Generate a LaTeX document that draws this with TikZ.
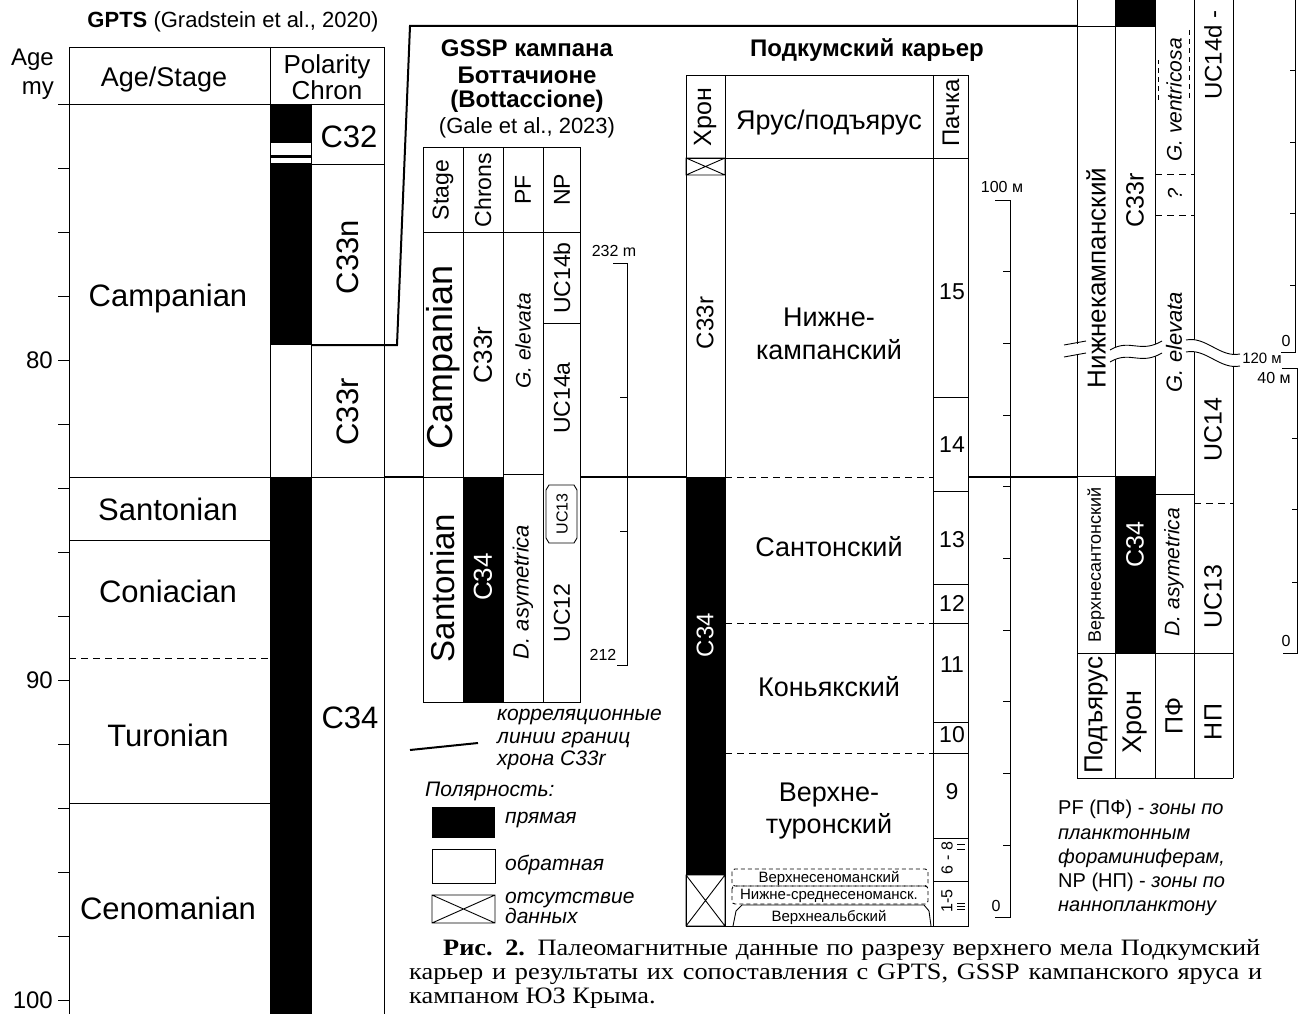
\documentclass[tikz,border=0pt]{standalone}
\usepackage{fontspec}
\setmainfont{Liberation Sans}
\newfontfamily\capfont[FakeStretch=1.12]{Liberation Serif}
\usetikzlibrary{positioning}
\newcommand*{\fsz}[1]{\fontsize{#1}{\the\dimexpr #1pt*6/5\relax}\selectfont}
\newcommand*{\nodata}[4]{% crossed box = no data
  \draw[cell] (#1,#2) rectangle (#3,#4) (#1,#2) -- (#3,#4) (#1,#4) -- (#3,#2);}
\tikzset{%
  cell/.style={line width=0.9pt},% table lines
  corr/.style={line width=2pt},% correlation lines of chron C33r
  divide/.style={cell, dash pattern=on 7pt off 5pt},% stage boundary inside a section
  finebox/.style={cell, dash pattern=on 4pt off 3pt, rounded corners=3pt},% small boxes at the base
  lab/.style={inner sep=0pt, font=\fsz{#1}},% plain label
  lab/.default=24,
  vlab/.style={lab=#1, rotate=90},% label along a column
  vlab/.default=24,
  ilab/.style={inner sep=0pt, font=\fsz{#1}\itshape},% taxon, legend text
  ilab/.default=21,
  vilab/.style={ilab=#1, rotate=90},
  vilab/.default=21,
  title/.style={inner sep=0pt, font=\fsz{24}\bfseries},
  caption/.style={inner sep=0pt, anchor=west, font=\capfont\fontsize{23.5}{24}\selectfont}
}
\begin{document}
\begin{tikzpicture}[x=1pt, y=-1pt]
\useasboundingbox (0,0) rectangle (1301,1014);

%%% GPTS
\node[lab=22] (gpts) at (233,22) {\textbf{GPTS} (Gradstein et al., 2020)};
\node[lab=24, align=right, anchor=east] (agemy) at (54,74) {Age\\my};
\node[lab=27] (agestage) at (164,80) {Age/Stage};
\node[inner sep=0pt, align=center, font=\fontsize{26}{26}\selectfont] (polchron) at (327,77) {Polarity\\Chron};
\draw[cell] (69,47) -- (384,47) (58,104) -- (384,104);
\draw[cell] (69,47) -- (69,1014) (270,47) -- (270,1014) (311,104) -- (311,1014) (384,47) -- (384,1014);
\foreach \y in {477,540,803} \draw[cell] (69,\y) -- (270,\y);
\draw[divide] (69,658) -- (270,658);
\foreach \y in {104,168,...,1000} \draw[cell] (58,\y) -- (69,\y);
\foreach \a/\y in {80/360,90/680,100/1000} \node[lab=24, anchor=east] (age\a) at (53,\y) {\a};
\foreach \s/\y in {Campanian/298,Santonian/509,Coniacian/591,Turonian/735,Cenomanian/908}
  \node[lab=31] (\s) at (168,\y) {\s};
% polarity
\fill (270,104) rectangle (311,143);
\fill (270,155) rectangle (311,158);
\fill (270,163) rectangle (311,345);
\fill (270,477) rectangle (311,1014);
\draw[cell] (311,164) -- (384,164) (311,345) -- (384,345) (311,477) -- (384,477);
\node[lab=31] (c32) at (349,137) {C32};
\node[vlab=31] (c33n) at (348,257) {C33n};
\node[vlab=31] (c33r) at (348,412) {C33r};
\node[lab=31] (c34) at (350,718) {C34};

% correlation lines
\coordinate (kink) at (397,345);
\coordinate (top) at (410,26);
\draw[corr] (311,345) -- (kink) -- (top) -- (1077,26);
\draw[corr] (384,477) -- (423,477) (580,477) -- (686,477) (968,477) -- (1077,477);

%%% GSSP Bottaccione
\foreach \t/\y in {GSSP кампана/48,Боттачионе/75,(Bottaccione)/101}
  \node[title] (gssp\y) at (527,\y) {\t};
\node[lab=22] (gale) at (527,128) {(Gale et al., 2023)};
\draw[cell] (423,147) rectangle (580,702);
\foreach \x in {463,503,543} \draw[cell] (\x,147) -- (\x,702);
\draw[cell] (423,232) -- (580,232);
\fill (463,477) rectangle (503,702);
\draw[cell] (423,477) -- (503,477) (503,474) -- (543,474) (543,323) -- (580,323);
\draw[cell] (549,485) -- (574,485) -- (577,490) -- (577,538) -- (574,543) -- (549,543)
  -- (546,538) -- (546,490) -- cycle;
\node[vlab=23] (gstage) at (443,190) {Stage};
\node[vlab=23] (gchrons) at (483,190) {Chrons};
\node[vlab=23] (gpf) at (523,190) {PF};
\node[vlab=23] (gnp) at (562,190) {NP};
\node[vlab=36] (gcamp) at (443,357) {Campanian};
\node[vlab=33] (gsant) at (443,588) {Santonian};
\node[vlab=26] (gc33r) at (483,355) {C33r};
\node[vlab=26, white] (gc34) at (483,577) {C34};
\node[vilab=21] (gelev) at (523,341) {G. elevata};
\node[vilab=22] (gasym) at (523,592) {D. asymetrica};
\node[vlab=23] (guc14b) at (562,278) {UC14b};
\node[vlab=23] (guc14a) at (562,398) {UC14a};
\node[vlab=16] (guc13) at (562,514) {UC13};
\node[vlab=23] (guc12) at (562,613) {UC12};
% thickness scale
\draw[cell] (613,263) -- (627,263) -- (627,665) -- (617,665);
\foreach \y in {397,531} \draw[cell] (620,\y) -- (627,\y);
\node[lab=16] (g232) at (614,251) {232 m};
\node[lab=16] (g212) at (603,655) {212};

%%% Podkumsky quarry
\node[title] (podk) at (867,50) {Подкумский карьер};
\draw[cell] (686,75) rectangle (968,926);
\foreach \x in {725,933} \draw[cell] (\x,75) -- (\x,926);
\draw[cell] (686,158) -- (968,158);
\nodata{686}{158}{725}{175}
\draw[cell] (686,477) -- (725,477);
\fill (686,477) rectangle (725,875);
\nodata{686}{875}{725}{926}
\foreach \y in {477,623,753} \draw[divide] (725,\y) -- (933,\y);
\foreach \y in {397,491,584,623,722,753,838,881} \draw[cell] (933,\y) -- (968,\y);
\foreach \y in {844,849,903,906,909} \draw[line width=0.6pt] (957,\y) -- (965,\y);
\draw[finebox] (732,869) rectangle (928,886);
\draw[finebox] (732,886) rectangle (928,904);
\draw[cell] (733,926) -- (736,911) -- (742,905) -- (924,905) -- (929,911) -- (931,926);
\node[vlab=25] (phron) at (705,117) {Хрон};
\node[lab=27] (pyarus) at (829,123) {Ярус/подъярус};
\node[vlab=24] (ppachka) at (951,113) {Пачка};
\node[vlab=24] (pc33r) at (705,323) {C33r};
\node[vlab=24, white] (pc34) at (705,635) {C34};
\node[lab=27, align=center] (pcamp) at (829,334) {Нижне-\\кампанский};
\node[lab=27] (psant) at (829,547) {Сантонский};
\node[lab=27] (pcon) at (829,687) {Коньякский};
\node[lab=27, align=center] (ptur) at (829,811) {Верхне-\\туронский};
\node[lab=15] (pcen3) at (829,878) {Верхнесеноманский};
\node[lab=15] (pcen12) at (829,896) {Нижне-среднесеноманск.};
\node[lab=15] (palb) at (829,917) {Верхнеальбский};
\foreach \n/\y in {15/292,14/445,13/540,12/603,11/665,10/735,9/792}
  \node[lab=23] (pack\n) at (952,\y) {\n};
\node[vlab=16] (pack68) at (947,858) {6 - 8};
\node[vlab=16] (pack15) at (947,901) {1-5};
% thickness scale
\draw[cell] (995,200) -- (1010,200) -- (1010,917) -- (995,917);
\foreach \k in {1,...,9} \draw[cell] (1003,{200+71.7*\k}) -- (1010,{200+71.7*\k});
\node[lab=16] (p100) at (1002,187) {100 м};
\node[lab=16] (p0) at (996,906) {0};

%%% SW Crimea
\foreach \x in {1077,1115,1155,1194,1233} \draw[cell] (\x,0) -- (\x,778);
\fill (1115,0) rectangle (1155,26);
\draw[cell] (1077,26) -- (1155,26) (1077,476) -- (1155,476) (1155,494) -- (1194,494);
\draw[cell] (1077,653) -- (1233,653) (1077,778) -- (1233,778);
\fill (1115,476) rectangle (1155,653);
\draw[divide] (1194,503) -- (1233,503) (1155,174) -- (1194,174) (1155,215) -- (1194,215);
\draw[cell, dash pattern=on 5pt off 4pt] (1158,100) -- (1158,60) (1189,30) -- (1189,100);
% break of the section
\fill[white] (1110,350) .. controls (1130,338) and (1140,354) .. (1162,341) -- (1162,353)
  .. controls (1140,366) and (1130,350) .. (1110,362) -- cycle;
\draw[cell] (1110,350) .. controls (1130,338) and (1140,354) .. (1162,341)
  (1110,362) .. controls (1130,350) and (1140,366) .. (1162,353);
\fill[white] (1186,340) .. controls (1206,336) and (1220,358) .. (1240,354) -- (1240,366)
  .. controls (1220,370) and (1206,348) .. (1186,352) -- cycle;
\draw[cell] (1186,340) .. controls (1206,336) and (1220,358) .. (1240,354)
  (1186,352) .. controls (1206,348) and (1220,370) .. (1240,366);
\fill[white] (1074,344) rectangle (1080,354);
\draw[cell] (1064,345) -- (1086,341) (1064,357) -- (1086,353);
\node[vlab=26] (ccamp) at (1096,278) {Нижнекампанский};
\node[vlab=18] (csant) at (1096,565) {Верхнесантонский};
\node[vlab=25] (cc33r) at (1135,200) {C33r};
\node[vlab=25, white] (cc34) at (1135,545) {C34};
\node[vilab=21] (cvent) at (1174,100) {G. ventricosa};
\node[vilab=20] (cq) at (1175,194) {?};
\node[vilab=22] (celev) at (1174,342) {G. elevata};
\node[vilab=21] (casym) at (1174,572) {D. asymetrica};
\node[vlab=24] (cuc14d) at (1213,55) {UC14d -};
\node[vlab=25] (cuc14) at (1213,430) {UC14};
\node[vlab=25] (cuc13) at (1213,597) {UC13};
\node[vlab=26] (csub) at (1096,715) {Подъярус};
\node[vlab=27] (chron) at (1135,722) {Хрон};
\node[vlab=25] (cpf) at (1174,716) {ПФ};
\node[vlab=25] (cnp) at (1213,722) {НП};
% thickness scales
\draw[cell] (1295,0) -- (1295,352) -- (1281,352);
\foreach \y in {70,142,213,285} \draw[cell] (1290,\y) -- (1295,\y);
\node[lab=16] (c0a) at (1286,341) {0};
\node[lab=15] (c120) at (1262,358) {120 м};
\draw[cell] (1282,368) -- (1297,368) -- (1297,653) -- (1283,653);
\foreach \y in {438,509,582} \draw[cell] (1292,\y) -- (1297,\y);
\node[lab=16] (c40) at (1274,378) {40 м};
\node[lab=16] (c0b) at (1286,641) {0};

%%% legend
\coordinate (lg1) at (410,750);
\coordinate (lg2) at (478,743);
\draw[corr] (lg1) -- (lg2);
\node[inner sep=0pt, anchor=north west, align=left, font=\fontsize{21}{22.5}\selectfont\itshape]
  (corrtxt) at (497,709) {корреляционные\\линии границ\\хрона C33r};
\node[ilab, anchor=west] (polar) at (425,791) {Полярность:};
\fill (432,807) rectangle (495,838);
\node[ilab, anchor=west] (direct) at (505,820) {прямая};
\draw[cell] (432,849) rectangle (495,883);
\node[ilab, anchor=west] (reverse) at (505,865) {обратная};
\nodata{432}{895}{495}{923}
\node[inner sep=0pt, anchor=west, align=left, font=\fontsize{21}{20}\selectfont\itshape]
  (absent) at (505,908) {отсутствие\\данных};
\node[inner sep=0pt, anchor=north west, align=left, font=\fontsize{20}{24.3}\selectfont]
  (notes) at (1058,800) {PF (ПФ) - \textit{зоны по}\\\textit{планктонным}\\\textit{фораминиферам,}\\
  NP (НП) - \textit{зоны по}\\\textit{наннопланктону}};

%%% caption
\node[caption] (cap1) at (443,950)
  {\makebox[817pt][s]{\textbf{Рис. 2.} Палеомагнитные данные по разрезу верхнего мела Подкумский}};
\node[caption] (cap2) at (409,974)
  {\makebox[853pt][s]{карьер и результаты их сопоставления с GPTS, GSSP кампанского яруса и}};
\node[caption] (cap3) at (409,998) {кампаном ЮЗ Крыма.};
\end{tikzpicture}
\end{document}
